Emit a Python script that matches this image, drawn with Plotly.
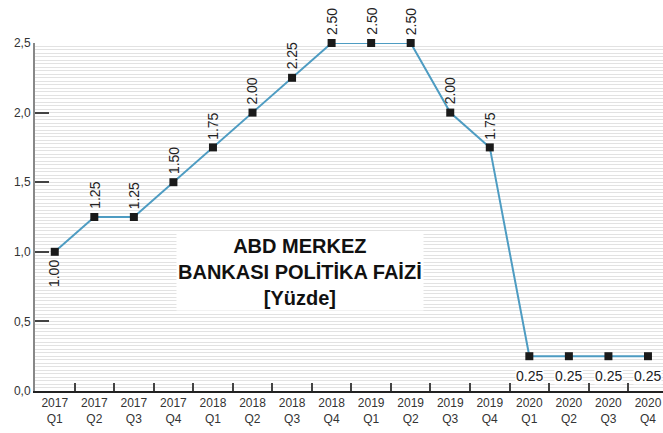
import plotly.graph_objects as go

years = ["2017", "2017", "2017", "2017", "2018", "2018", "2018", "2018",
         "2019", "2019", "2019", "2019", "2020", "2020", "2020", "2020"]
quarters = ["Q1", "Q2", "Q3", "Q4"] * 4
categories = [f"{y}<br>{q}" for y, q in zip(years, quarters)]
rates = [1.00, 1.25, 1.25, 1.50, 1.75, 2.00, 2.25, 2.50,
         2.50, 2.50, 2.00, 1.75, 0.25, 0.25, 0.25, 0.25]
rate_labels = ["1.00", "1.25", "1.25", "1.50", "1.75", "2.00", "2.25", "2.50",
               "2.50", "2.50", "2.00", "1.75", "0.25", "0.25", "0.25", "0.25"]
# label placement: "down-rot" (rotated below), "up-rot" (rotated above), "down" (horizontal below)
label_pos = ["down-rot"] + ["up-rot"] * 11 + ["down"] * 4

title_text = "ABD MERKEZ<br>BANKASI POLİTİKA FAİZİ<br>[Yüzde]"

FONT = "Liberation Sans, Arial, Helvetica, sans-serif"

fig = go.Figure()
fig.add_trace(go.Scatter(
    x=categories, y=rates, mode="lines+markers",
    line=dict(color="#4e9cc2", width=2),
    marker=dict(symbol="square", size=8, color="#1a1a1a"),
    cliponaxis=False, hoverinfo="skip",
))

annotations = []
for c, v, t, p in zip(categories, rates, rate_labels, label_pos):
    if p == "up-rot":
        annotations.append(dict(x=c, y=v, text=t, textangle=-90, showarrow=False,
                                xanchor="center", yanchor="bottom", yshift=6,
                                font=dict(size=14, color="#222", family=FONT)))
    elif p == "down-rot":
        annotations.append(dict(x=c, y=v, text=t, textangle=-90, showarrow=False,
                                xanchor="center", yanchor="top", yshift=-6,
                                font=dict(size=14, color="#222", family=FONT)))
    else:
        annotations.append(dict(x=c, y=v, text=t, showarrow=False,
                                xanchor="center", yanchor="top", yshift=-11,
                                bgcolor="white", borderpad=0,
                                font=dict(size=14, color="#222", family=FONT)))

annotations.append(dict(x=0.422, y=0.342, xref="paper", yref="paper", text=title_text,
                        showarrow=False, align="center", bgcolor="white", borderpad=1,
                        font=dict(size=20, color="#111", family="Liberation Sans, Arial, sans-serif", weight="bold")))

fig.update_layout(
    width=663, height=433,
    margin=dict(l=35, r=0, t=43, b=42),
    paper_bgcolor="white", plot_bgcolor="white",
    separators=",.",
    showlegend=False,
    annotations=annotations,
    font=dict(family=FONT, color="#333"),
)
fig.update_xaxes(
    type="category", range=[-0.5, 15.38],
    showline=True, linecolor="#222", linewidth=1.5,
    ticks="inside", ticklen=8, tickcolor="#444", tickwidth=1.5,
    tickson="boundaries", showgrid=False,
    tickfont=dict(size=12, color="#333", family=FONT),
)
fig.update_yaxes(
    range=[0, 2.5], tickvals=[0, 0.5, 1.0, 1.5, 2.0, 2.5], tickformat=".1f",
    showline=True, linecolor="#888", linewidth=2,
    ticks="inside", ticklen=14, tickcolor="#444", tickwidth=1.5,
    showgrid=True, gridcolor="#e2e2e2", gridwidth=1,
    minor=dict(dtick=0.025, showgrid=True, gridcolor="#e2e2e2", gridwidth=1),
    zeroline=False,
    tickfont=dict(size=12, color="#333", family=FONT),
)

fig.write_html("out.html",
               config={"displayModeBar": False},
               post_script="document.body.style.margin='0';document.body.style.overflow='hidden';")
